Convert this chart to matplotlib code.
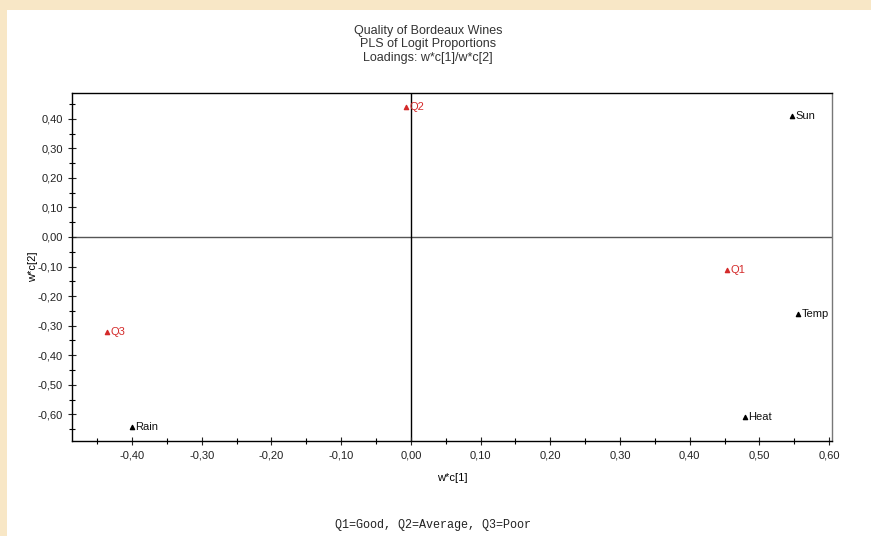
import matplotlib
matplotlib.use('Agg')
import matplotlib.pyplot as plt
from matplotlib.patches import Rectangle
from matplotlib.ticker import MultipleLocator, FuncFormatter

# loadings
variables = ['Sun', 'Temp', 'Heat', 'Rain']
var_x = [0.547, 0.555, 0.479, -0.400]
var_y = [0.410, -0.260, -0.610, -0.644]

responses = ['Q1', 'Q2', 'Q3']
resp_x = [0.453, -0.007, -0.436]
resp_y = [-0.110, 0.438, -0.320]

title_lines = ['Quality of Bordeaux Wines', 'PLS of Logit Proportions', 'Loadings: w*c[1]/w*c[2]']
footnote = 'Q1=Good, Q2=Average, Q3=Poor'

plt.rcParams['font.family'] = ['Liberation Sans', 'DejaVu Sans']

fig = plt.figure(figsize=(8.71, 5.36), dpi=100)
fig.patch.set_facecolor('#f8e7c6')
W, H = 871, 536
# white panel, beige shows only on top and left
fig.patches.append(Rectangle((7 / W, 0), 1, 1 - 10 / H, transform=fig.transFigure,
                             facecolor='white', edgecolor='none', zorder=-5))

ax = fig.add_axes([72 / W, 1 - 441 / H, (832 - 72) / W, (441 - 93) / H])
ax.set_zorder(2)
ax.set_xlim(-0.486, 0.604)
ax.set_ylim(-0.69, 0.487)

ax.axhline(0, color='#555555', lw=1.0, zorder=1)
ax.axvline(0, color='black', lw=1.0, zorder=1)

ax.scatter(var_x, var_y, marker='^', s=9, color='black', zorder=3)
for name, x, y in zip(variables, var_x, var_y):
    ax.text(x + 0.005, y, name, fontsize=8, va='center', ha='left', color='#111111')

red = '#d42a2a'
ax.scatter(resp_x, resp_y, marker='^', s=9, color=red, zorder=3)
for name, x, y in zip(responses, resp_x, resp_y):
    ax.text(x + 0.005, y, name, fontsize=8, va='center', ha='left', color=red)

fmt = FuncFormatter(lambda v, p: ('%.2f' % v).replace('.', ',').replace('-0,00', '0,00'))
for axis in (ax.xaxis, ax.yaxis):
    axis.set_major_locator(MultipleLocator(0.1))
    axis.set_minor_locator(MultipleLocator(0.05))
    axis.set_major_formatter(fmt)
ax.tick_params(which='major', direction='inout', length=6, width=0.8, labelsize=8,
               colors='#222222')
ax.tick_params(which='minor', direction='inout', length=5, width=0.8)

for side in ['top', 'left', 'bottom']:
    ax.spines[side].set_color('black')
ax.spines['right'].set_color('#777777')
for s in ax.spines.values():
    s.set_linewidth(1.0)

ax.set_xlabel('w*c[1]', fontsize=8, labelpad=9)
ax.set_ylabel('w*c[2]', fontsize=8, labelpad=0)

for i, line in enumerate(title_lines):
    fig.text(428 / W, 1 - (31 + 13.5 * i) / H, line, ha='center', va='center', fontsize=9,
             color='#333333')

fig.text(433 / W, 1 - 525 / H, footnote, ha='center', va='center', fontsize=8.5,
         family=['Liberation Mono', 'DejaVu Sans Mono'], color='#222222')

fig.savefig('out.png', dpi=100, facecolor=fig.get_facecolor())
